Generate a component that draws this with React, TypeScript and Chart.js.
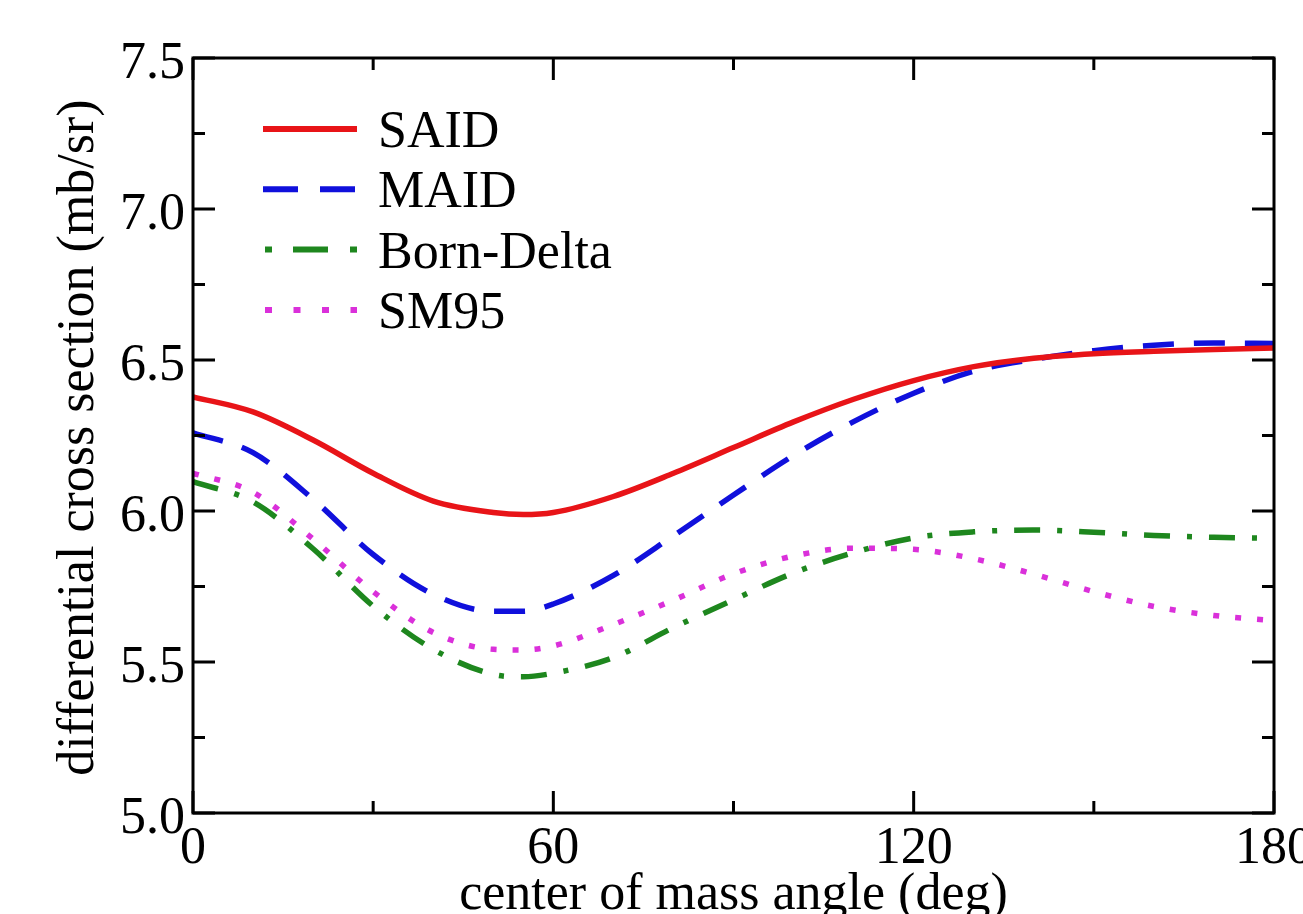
import React, { useEffect, useRef } from 'react';
import { Chart, registerables } from 'chart.js';

Chart.register(...registerables);

// ---- data ----
const angles = [0, 10, 20, 30, 40, 50, 55, 60, 70, 80, 90, 100, 110, 120, 130, 140, 150, 160, 170, 180];
const said = [6.378, 6.328, 6.235, 6.125, 6.033, 5.995, 5.988, 5.995, 6.048, 6.125, 6.21, 6.295, 6.37, 6.432, 6.478, 6.506, 6.521, 6.529, 6.535, 6.54];
const maid = [6.259, 6.193, 6.039, 5.856, 5.724, 5.668, 5.668, 5.692, 5.787, 5.918, 6.053, 6.184, 6.296, 6.39, 6.463, 6.502, 6.531, 6.549, 6.556, 6.555];
const bornDelta = [6.097, 6.03, 5.875, 5.685, 5.542, 5.459, 5.451, 5.463, 5.515, 5.614, 5.706, 5.795, 5.862, 5.911, 5.931, 5.937, 5.93, 5.919, 5.913, 5.91];
const sm95 = [6.125, 6.062, 5.907, 5.733, 5.598, 5.542, 5.54, 5.553, 5.624, 5.705, 5.792, 5.851, 5.877, 5.873, 5.842, 5.791, 5.733, 5.684, 5.654, 5.637];

const seriesNames = ['SAID', 'MAID', 'Born-Delta', 'SM95'];
const seriesColors = ['rgb(232,20,24)', 'rgb(16,16,220)', 'rgb(30,135,30)', 'rgb(218,48,218)'];

const xMajorTicks = [0, 60, 120, 180];
const xTickLabels = ['0', '60', '120', '180'];
const xMinorTicks = [30, 90, 150];
const yMajorTicks = [5.0, 5.5, 6.0, 6.5, 7.0, 7.5];
const yTickLabels = ['5.0', '5.5', '6.0', '6.5', '7.0', '7.5'];
const yMinorTicks = [5.25, 5.75, 6.25, 6.75, 7.25];

const xTitle = 'center of mass angle (deg)';
const yTitle = 'differential cross section (mb/sr)';

const FONT = '"Liberation Serif", "Times New Roman", serif';

const toPoints = (vals: number[]) => angles.map((a, i) => ({ x: a, y: vals[i] }));

const plotDashes: number[][] = [[], [31, 20], [26, 17, 5, 17], [6, 16]];
const legendDashes: number[][] = [[], [35, 22], [7, 21, 35, 22], [7, 21.5]];

const framePlugin = {
  id: 'framePlugin',
  afterDatasetsDraw(chart: any) {
    const { ctx, chartArea, scales } = chart;
    const xs = scales.x;
    const ys = scales.y;
    const { left, right, top, bottom } = chartArea;
    ctx.save();
    // frame
    ctx.strokeStyle = '#000';
    ctx.lineWidth = 3;
    ctx.setLineDash([]);
    ctx.strokeRect(left, top, right - left, bottom - top);

    // ticks
    const major = 22;
    const minor = 12;
    ctx.lineWidth = 3;
    ctx.beginPath();
    const xt = (v: number, len: number) => {
      const px = xs.getPixelForValue(v);
      ctx.moveTo(px, bottom);
      ctx.lineTo(px, bottom - len);
      ctx.moveTo(px, top);
      ctx.lineTo(px, top + len);
    };
    const yt = (v: number, len: number) => {
      const py = ys.getPixelForValue(v);
      ctx.moveTo(left, py);
      ctx.lineTo(left + len, py);
      ctx.moveTo(right, py);
      ctx.lineTo(right - len, py);
    };
    xMajorTicks.forEach((v) => xt(v, major));
    xMinorTicks.forEach((v) => xt(v, minor));
    yMajorTicks.forEach((v) => yt(v, major));
    yMinorTicks.forEach((v) => yt(v, minor));
    ctx.stroke();

    // tick labels
    ctx.fillStyle = '#000';
    ctx.font = `52px ${FONT}`;
    ctx.textBaseline = 'alphabetic';
    ctx.textAlign = 'center';
    xMajorTicks.forEach((v, i) => {
      ctx.fillText(xTickLabels[i], xs.getPixelForValue(v), bottom + 50);
    });
    ctx.textAlign = 'right';
    yMajorTicks.forEach((v, i) => {
      ctx.fillText(yTickLabels[i], left - 8, ys.getPixelForValue(v) + 20);
    });

    // axis titles
    ctx.font = `52px ${FONT}`;
    ctx.textAlign = 'center';
    ctx.fillText(xTitle, (left + right) / 2, bottom + 96);
    ctx.save();
    ctx.translate(93, (top + bottom) / 2 + 2);
    ctx.rotate(-Math.PI / 2);
    ctx.fillText(yTitle, 0, 0);
    ctx.restore();

    // legend
    const lx0 = left + 70;
    const lx1 = left + 164;
    const ly0 = top + 71;
    const step = 60.3;
    ctx.font = `52px ${FONT}`;
    ctx.textAlign = 'left';
    seriesNames.forEach((name, i) => {
      const y = ly0 + i * step;
      ctx.strokeStyle = seriesColors[i];
      ctx.lineWidth = 6;
      ctx.lineCap = 'butt';
      ctx.setLineDash(legendDashes[i]);
      ctx.beginPath();
      const start = i >= 2 ? lx0 + 2 : lx0;
      ctx.moveTo(start, y);
      ctx.lineTo(lx1, y);
      ctx.stroke();
      ctx.setLineDash([]);
      ctx.fillStyle = '#000';
      ctx.fillText(name, left + 185, y + 18);
    });
    ctx.restore();
  },
};

export default function App() {
  const ref = useRef<HTMLCanvasElement>(null);
  useEffect(() => {
    document.body.style.margin = '0';
    const canvas = ref.current;
    if (!canvas) return;
    const allSeries = [said, maid, bornDelta, sm95];
    const chart = new Chart(canvas, {
      type: 'line',
      data: {
        datasets: allSeries.map((vals, i) => ({
          label: seriesNames[i],
          data: toPoints(vals),
          borderColor: seriesColors[i],
          backgroundColor: seriesColors[i],
          borderWidth: 5.5,
          borderDash: plotDashes[i],
          borderCapStyle: 'butt',
          pointRadius: 0,
          cubicInterpolationMode: 'monotone',
          fill: false,
        })),
      },
      options: {
        responsive: false,
        animation: false,
        devicePixelRatio: 1,
        layout: { padding: { left: 193, top: 58, right: 29, bottom: 101 } },
        scales: {
          x: { type: 'linear', min: 0, max: 180, display: false },
          y: { type: 'linear', min: 5, max: 7.5, display: false },
        },
        plugins: {
          legend: { display: false },
          tooltip: { enabled: false },
        },
      },
      plugins: [framePlugin],
    } as any);
    return () => chart.destroy();
  }, []);
  return (
    <div style={{ position: 'fixed', left: 0, top: 0, width: 1303, height: 914, background: '#fff' }}>
      <canvas ref={ref} width={1303} height={914} style={{ display: 'block', width: 1303, height: 914 }} />
    </div>
  );
}
